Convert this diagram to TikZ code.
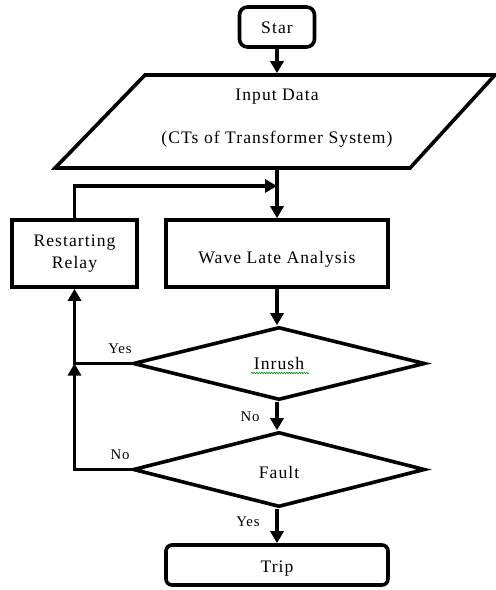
\documentclass[tikz,border=0pt]{standalone}
\usepackage{fontspec}
\setmainfont{Liberation Serif}[LetterSpace=6]
\usetikzlibrary{arrows.meta,shapes.geometric,decorations.pathmorphing}

% lower a label inside its node without changing the node's size
\newcommand{\lowerby}[2]{\raisebox{-#1}[\height][\depth]{#2}}

\begin{document}
\begin{tikzpicture}[x=1pt,y=-1pt,
  line width=3.6pt,
  txt/.style={font=\fontsize{17.6}{22}\selectfont, align=center, inner sep=0pt},
  lbl/.style={font=\fontsize{14.8}{16}\selectfont, inner sep=0pt},
  box/.style={draw, rectangle, txt},
  term/.style={box, rounded corners=8pt},
  dia/.style={draw, diamond, txt},
  arr/.style={-{Triangle[length=12pt,width=13pt]}},
]
\useasboundingbox (0,0) rectangle (496,590);

% start terminal
\node[term, minimum width=75pt, minimum height=40pt] (star) at (277,27) {\lowerby{1pt}{Star}};

% input/output parallelogram with its two text lines
\node[minimum width=260pt, minimum height=93pt, inner sep=0pt] (input) at (277,121.5) {};
\draw[line join=miter] (55,168) -- (145,75) -- (495,75) -- (410,168) -- cycle;
\node[txt] (inputa) at (277,97) {Input Data};
\node[txt] (inputb) at (277,139.5) {(CTs of Transformer System)};

% processing boxes
\node[box, minimum width=222pt, minimum height=67pt] (wave) at (277,253.5) {\lowerby{6pt}{Wave Late Analysis}};
\node[box, minimum width=125pt, minimum height=67pt] (relay) at (74.5,253.5) {Restarting\\Relay};

% decisions
\node[dia, minimum width=292pt, minimum height=73pt] (inrush) at (279,363.5) {Inrush};
\node[dia, minimum width=292pt, minimum height=75pt] (fault) at (279,469.5) {\lowerby{2.5pt}{Fault}};

% end terminal
\node[term, minimum width=222pt, minimum height=40pt, rounded corners=6pt] (trip) at (277,565) {\lowerby{4pt}{Trip}};

% spell-check underline under "Inrush"
\draw[green!55!black, line width=0.6pt, decorate,
  decoration={snake, amplitude=0.7pt, segment length=2.5pt}] (251,373) -- (309,373);

% main flow
\draw[arr] (star) -- (input);
\draw[arr] (input) -- (wave);
\draw[arr] (wave) -- (wave |- inrush.north);
\draw[arr] (wave |- inrush.south) -- (wave |- fault.north);
\draw[arr] (wave |- fault.south) -- (trip);

% feedback loop through the relay
\coordinate (fb) at (277,186);
\coordinate (j) at (relay.south |- inrush.west);
\draw[arr] (relay.north) |- (fb);
\draw[arr] (inrush.west) -| (relay.south);
\draw[arr] (fault.west) -| (j);

% branch labels
\node[lbl] (yes1) at (120,349) {Yes};
\node[lbl] (no1) at (250,417) {No};
\node[lbl] (no2) at (120,455) {No};
\node[lbl] (yes2) at (248,522) {Yes};
\end{tikzpicture}
\end{document}
